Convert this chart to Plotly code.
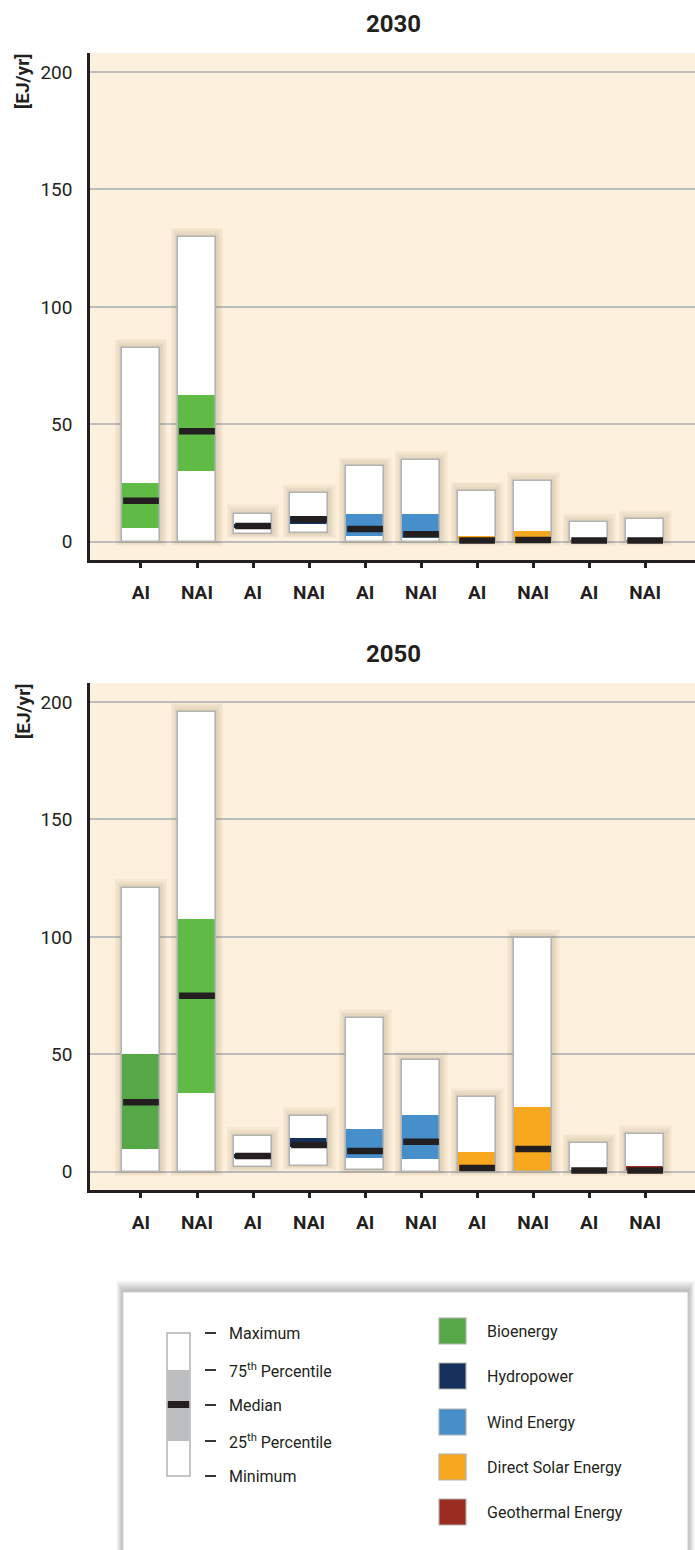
import plotly.graph_objects as go

# ---------------- data ----------------
years = ["2030", "2050"]
technologies = ["Bioenergy", "Hydropower", "Wind Energy", "Direct Solar Energy", "Geothermal Energy"]
regions = ["AI", "NAI"]
tech_colors = ["#5fba46", "#15305a", "#478fcb", "#f7a81f", "#9b2d20"]

# order of bars: for each technology -> AI, NAI   [EJ/yr]
min_2030 = [0, 0, 3.4, 3.5, 0, 0, 0, 0, 0, 0]
p25_2030 = [6, 30, 6, 7.4, 2.3, 1.5, 0, 0.3, 0, 0]
med_2030 = [17.4, 47, 6.7, 9.5, 5.4, 3.2, 0.5, 0.7, 0.5, 0.5]
p75_2030 = [25.2, 62.5, 7.5, 11, 11.9, 11.9, 2.4, 4.7, 0.5, 0.5]
max_2030 = [82.6, 129.9, 12, 20.7, 32.3, 34.6, 21.7, 25.7, 8.2, 9.5]

min_2050 = [0, 0, 1.8, 2.6, 0.7, 0, 0, 0, 0, 0]
p25_2050 = [9.8, 33.4, 6, 10.5, 6, 5.3, 0.2, 0, 0, 0]
med_2050 = [29.6, 74.9, 6.7, 11.4, 8.8, 12.7, 1.6, 9.7, 0.5, 0.55]
p75_2050 = [50.3, 107.5, 7.5, 14.5, 18.3, 24.3, 8.5, 27.7, 0.5, 2.6]
max_2050 = [120.8, 195.9, 15.1, 23.6, 65.4, 47.5, 31.9, 99.5, 12.4, 15.9]

y_ticks = [0, 50, 100, 150, 200]

stats = {
    "2030": (min_2030, p25_2030, med_2030, p75_2030, max_2030),
    "2050": (min_2050, p25_2050, med_2050, p75_2050, max_2050),
}

# ---------------- layout helpers ----------------
W, H = 695, 1550
def px(x):
    return x / W
def py(y):
    return 1 - y / H

FONT = "Roboto, Open Sans, sans-serif"
TXT = "#231f20"
BAR_W = 0.67
OUTLINE = "#b3b3b3"

fig = go.Figure()

n_bars = len(technologies) * len(regions)
positions = list(range(n_bars))
tick_text = [r for t in technologies for r in regions]
bar_tech = [i for i, t in enumerate(technologies) for r in regions]

for k, year in enumerate(years):
    xa = "x" if k == 0 else "x2"
    ya = "y" if k == 0 else "y2"
    mn, p25, med, p75, mx = stats[year]
    colors = [tech_colors[bar_tech[i]] for i in range(n_bars)]
    if year == "2050":
        colors[0] = "#56a846"
    # soft drop shadow
    for layer in range(1, 6):
        e = layer * 0.7
        fig.add_trace(go.Bar(
            x=positions, y=[mx[i] - mn[i] + 1.6 * e for i in range(n_bars)],
            base=[mn[i] - 0.5 * e for i in range(n_bars)],
            width=BAR_W + layer * 0.055,
            marker=dict(color="rgba(110,85,50,0.042)", line=dict(width=0)),
            xaxis=xa, yaxis=ya, showlegend=False, hoverinfo="skip"))
    # white range box (min..max)
    fig.add_trace(go.Bar(
        x=positions, y=[mx[i] - mn[i] for i in range(n_bars)], base=mn,
        width=BAR_W, marker=dict(color="white", line=dict(width=0)),
        xaxis=xa, yaxis=ya, showlegend=False, hoverinfo="skip"))
    # coloured inter-quartile box
    fig.add_trace(go.Bar(
        x=positions, y=[p75[i] - p25[i] for i in range(n_bars)], base=p25,
        width=BAR_W, marker=dict(color=colors, line=dict(width=0)),
        xaxis=xa, yaxis=ya, showlegend=False, hoverinfo="skip"))
    # outline
    fig.add_trace(go.Bar(
        x=positions, y=[mx[i] - mn[i] for i in range(n_bars)], base=mn,
        width=BAR_W, marker=dict(color="rgba(0,0,0,0)", line=dict(width=1.6, color=OUTLINE)),
        xaxis=xa, yaxis=ya, showlegend=False, hoverinfo="skip"))
    # median (line-ew length = 1.4 * size)
    fig.add_trace(go.Scatter(
        x=positions, y=med, mode="markers",
        marker=dict(symbol="line-ew", size=25.5, line=dict(width=6.5, color=TXT)),
        xaxis=xa, yaxis=ya, showlegend=False, hoverinfo="skip"))

x_range = [-0.91, 9.89]
y_range = [-7.8, 208.1]

axis_common_x = dict(
    range=x_range, tickmode="array", tickvals=positions, ticktext=tick_text,
    ticks="outside", ticklen=5, tickwidth=2.5, tickcolor=TXT,
    tickfont=dict(family=FONT, size=19, color=TXT, weight="bold"),
    ticklabelstandoff=8,
    showline=True, linecolor=TXT, linewidth=2.5, showgrid=False, zeroline=False,
)
axis_common_y = dict(
    range=y_range, tickmode="array", tickvals=y_ticks,
    ticks="", tickfont=dict(family=FONT, size=19, color=TXT),
    ticklabelstandoff=11,
    showline=True, linecolor=TXT, linewidth=2.5,
    showgrid=True, gridcolor="#bdbdbd", gridwidth=1.6, zeroline=False,
)

fig.update_layout(
    width=W, height=H, margin=dict(l=0, r=0, t=0, b=0),
    paper_bgcolor="white", plot_bgcolor="#fdf0dc",
    barmode="overlay", bargap=0, showlegend=False,
    xaxis=dict(domain=[px(90), 1.0], anchor="y", **axis_common_x),
    yaxis=dict(domain=[py(560), py(53)], anchor="x", **axis_common_y),
    xaxis2=dict(domain=[px(90), 1.0], anchor="y2", **axis_common_x),
    yaxis2=dict(domain=[py(1190), py(683)], anchor="x2", **axis_common_y),
)

annotations = []
shapes = []

# titles and axis labels
for year, ty, ly in [(years[0], 24, 82), (years[1], 654, 712)]:
    annotations.append(dict(x=px(393), y=py(ty), xref="paper", yref="paper", text=year,
                            showarrow=False, xanchor="center", yanchor="middle",
                            font=dict(family=FONT, size=24, color=TXT, weight="bold")))
    annotations.append(dict(x=px(23), y=py(ly), xref="paper", yref="paper", text="[EJ/yr]",
                            showarrow=False, xanchor="center", yanchor="middle", textangle=-90,
                            font=dict(family=FONT, size=19, color=TXT, weight="bold")))

# ---------------- legend panel ----------------
bx0, by0, bx1, by1 = 123, 1292, 688, 1570
for s in range(1, 9):
    shapes.append(dict(type="rect", xref="paper", yref="paper",
                       x0=px(bx0 - s * 0.8), x1=px(bx1 + s * 0.8), y0=py(by1), y1=py(by0 - s * 1.4),
                       fillcolor="rgba(0,0,0,0.035)", line=dict(width=0), layer="below"))
shapes.append(dict(type="rect", xref="paper", yref="paper",
                   x0=px(bx0), x1=px(bx1), y0=py(by1), y1=py(by0),
                   fillcolor="white", line=dict(width=1, color="#d0d0d0"), layer="below"))

# box-plot key
kx0, kx1 = 167, 190
key_levels = [1333, 1370, 1405, 1441, 1476]
shapes.append(dict(type="rect", xref="paper", yref="paper", x0=px(kx0), x1=px(kx1),
                   y0=py(key_levels[4]), y1=py(key_levels[0]), fillcolor="white",
                   line=dict(width=1.5, color=OUTLINE)))
shapes.append(dict(type="rect", xref="paper", yref="paper", x0=px(kx0 + 0.8), x1=px(kx1 - 0.8),
                   y0=py(key_levels[3]), y1=py(key_levels[1]), fillcolor="#bdbec0",
                   line=dict(width=0)))
shapes.append(dict(type="rect", xref="paper", yref="paper", x0=px(kx0 + 0.8), x1=px(kx1 - 0.8),
                   y0=py(1408), y1=py(1401), fillcolor=TXT, line=dict(width=0)))
key_labels = ["Maximum", "75<sup>th</sup> Percentile", "Median", "25<sup>th</sup> Percentile", "Minimum"]
for lvl, lab in zip(key_levels, key_labels):
    shapes.append(dict(type="line", xref="paper", yref="paper", x0=px(205), x1=px(216),
                       y0=py(lvl), y1=py(lvl), line=dict(width=1.8, color=TXT)))
    annotations.append(dict(x=px(227), y=py(lvl), xref="paper", yref="paper", text=lab,
                            showarrow=False, xanchor="left", yanchor="middle",
                            font=dict(family=FONT, size=16, color=TXT)))

# technology colour key
legend_colors = ["#55a845", "#15305a", "#478fcb", "#f7a81f", "#9b2d20"]
sw_y = [1331, 1376, 1422, 1467, 1512]
for c, t, yc in zip(legend_colors, technologies, sw_y):
    shapes.append(dict(type="rect", xref="paper", yref="paper", x0=px(439), x1=px(466),
                       y0=py(yc + 13), y1=py(yc - 13), fillcolor=c,
                       line=dict(width=1.2, color="#b0b0b0")))
    annotations.append(dict(x=px(485), y=py(yc), xref="paper", yref="paper", text=t,
                            showarrow=False, xanchor="left", yanchor="middle",
                            font=dict(family=FONT, size=16, color=TXT)))

fig.update_layout(annotations=annotations, shapes=shapes)
fig.write_html("out.html", config={"displayModeBar": False},
               post_script="document.body.style.margin='0';document.body.style.overflow='hidden';")
